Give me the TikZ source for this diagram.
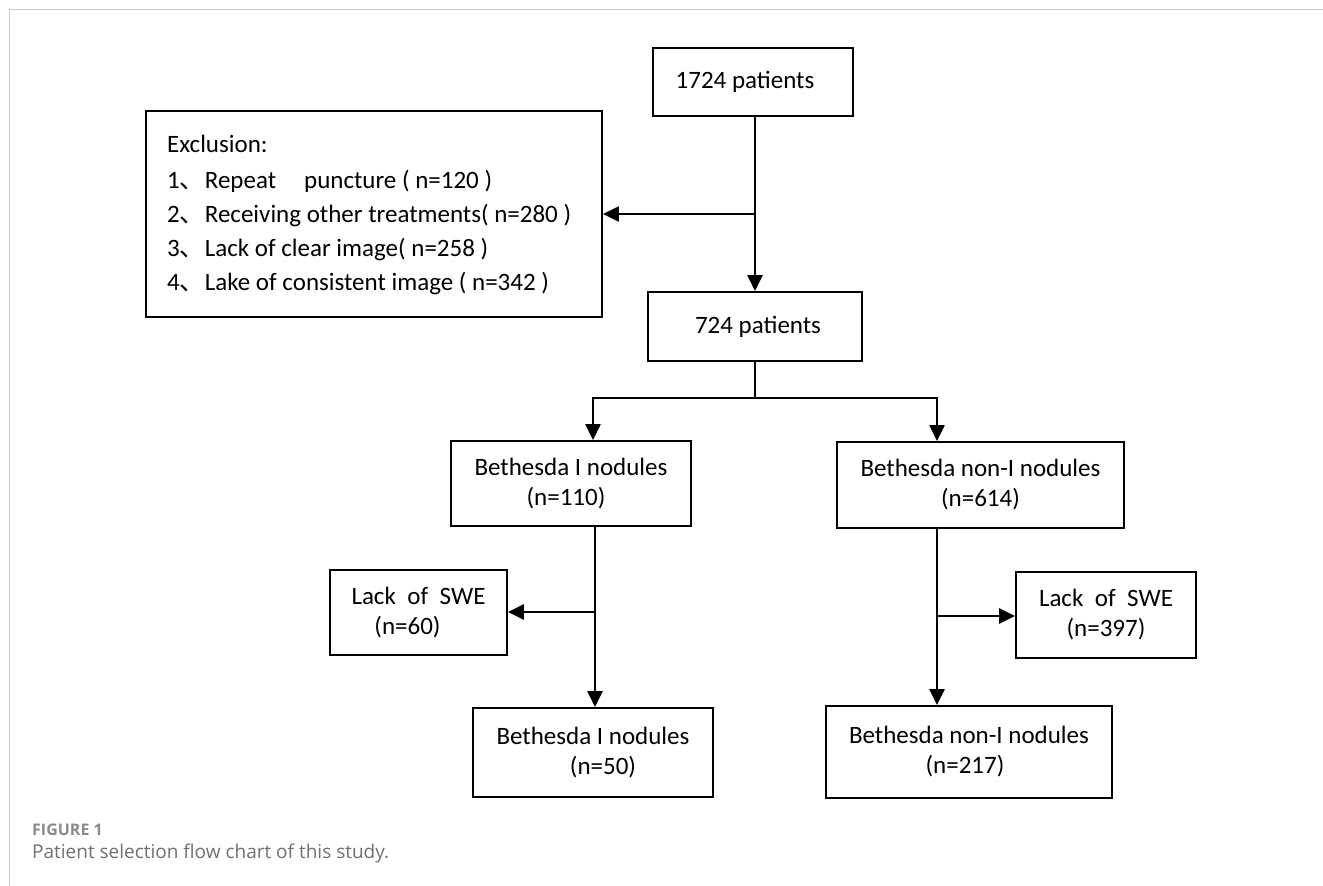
\documentclass[tikz,border=0pt]{standalone}
\usepackage{fontspec}
\setmainfont{Carlito}
\newfontfamily\cjkfont{Noto Sans CJK SC}
\newfontfamily\capfont{Open Sans}
\usetikzlibrary{arrows.meta}
\definecolor{framegray}{HTML}{C8C8C8}
\definecolor{capgray}{HTML}{707070}
\definecolor{figgray}{HTML}{8A8A8A}
\newcommand{\wsp}{\hspace{11.5pt}}
\begin{document}
\begin{tikzpicture}[x=1pt,y=-1pt,
  boxnode/.style={draw=black, line width=1.8pt, align=center, inner sep=0pt,
    font=\fontsize{25}{30}\selectfont},
  arr/.style={line width=2.8pt, -{Triangle[length=16pt,width=15pt]}},
  plainline/.style={line width=2.2pt},
  listtext/.style={anchor=base west, inner sep=0pt, font=\fontsize{25}{30}\selectfont},
]
\useasboundingbox (0,0) rectangle (1323,886);
\draw[framegray, line width=1.5pt] (9.5,886) -- (9.5,9.5) -- (1323,9.5);

% boxes
\node[boxnode, minimum width=200pt, minimum height=68pt] (top) at (753,82) {1724 patients\hspace*{16pt}};
\node[boxnode, minimum width=456pt, minimum height=206pt] (excl) at (374,214) {};
\node[boxnode, minimum width=214pt, minimum height=69pt] (mid) at (755,326.5) {\hspace*{6pt}724 patients};
\node[boxnode, minimum width=240pt, minimum height=85pt] (b1) at (571,483.5) {Bethesda I nodules\\(n=110)\hspace*{10pt}};
\node[boxnode, minimum width=287pt, minimum height=86pt] (b2) at (980.5,485) {Bethesda non-I nodules\\(n=614)};
\node[boxnode, minimum width=177pt, minimum height=85pt] (s1) at (418.5,612.5) {Lack\wsp of\wsp SWE\\(n=60)\hspace*{22pt}};
\node[boxnode, minimum width=180pt, minimum height=86pt] (s2) at (1106,615) {Lack\wsp of\wsp SWE\\(n=397)};
\node[boxnode, minimum width=240pt, minimum height=89pt] (c1) at (593,752.5) {Bethesda I nodules\\\hspace*{20pt}(n=50)};
\node[boxnode, minimum width=286pt, minimum height=92pt] (c2) at (969,752) {Bethesda non-I nodules\\(n=217)\hspace*{8pt}};

% exclusion list
\node[listtext] (e0) at (167,152) {Exclusion:};
\node[listtext] (e1) at (167,188) {1{\cjkfont 、}Repeat\hspace{28pt}puncture ( n=120 )};
\node[listtext] (e2) at (167,222) {2{\cjkfont 、}Receiving other treatments( n=280 )};
\node[listtext] (e3) at (167,256) {3{\cjkfont 、}Lack of clear image( n=258 )};
\node[listtext] (e4) at (167,290) {4{\cjkfont 、}Lake of consistent image ( n=342 )};

% connectors
\coordinate (j1) at (755,214);
\coordinate (b0) at (755,398);
\coordinate (bl) at (593,398);
\coordinate (br) at (937,398);
\coordinate (v1) at (595,612);
\coordinate (v2) at (937,616);

\draw[arr] (top.south -| mid.north) -- (mid.north);
\draw[arr, line width=2.2pt] (j1) -- (j1 -| excl.east);
\draw[plainline] (mid.south) -- (b0);
\draw[arr, line width=2.2pt] (b0) -- (bl) -- (bl |- b1.north);
\draw[arr, line width=2.2pt] (b0) -- (br) -- (br |- b2.north);
\draw[arr] (v1 |- b1.south) -- (v1 |- c1.north);
\draw[arr] (v1) -- (v1 -| s1.east);
\draw[arr] (v2 |- b2.south) -- (v2 |- c2.north);
\draw[arr] (v2) -- (v2 -| s2.west);

% caption
\node[anchor=base west, inner sep=0pt, font=\capfont\bfseries\fontsize{16}{19}\selectfont, text=figgray] (fig) at (32,835) {FIGURE 1};
\node[anchor=base west, inner sep=0pt, font=\capfont\fontsize{19}{23}\selectfont, text=capgray] (cap) at (32,858) {Patient selection flow chart of this study.};
\end{tikzpicture}
\end{document}
